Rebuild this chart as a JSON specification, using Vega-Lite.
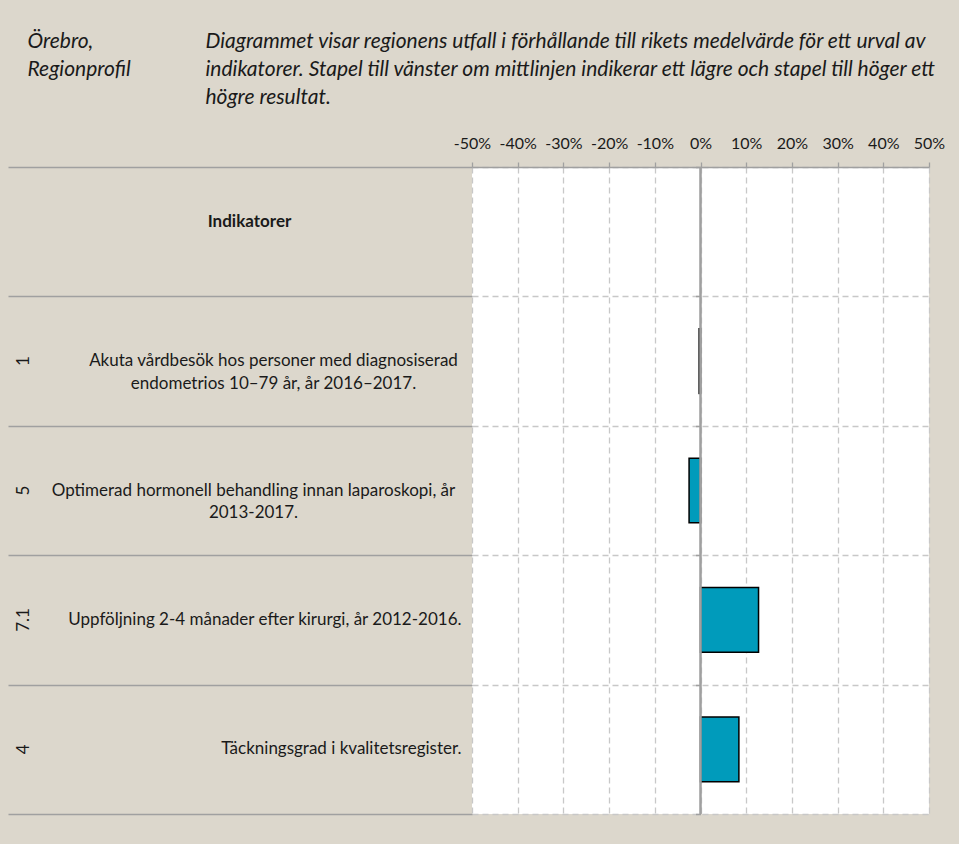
{
  "$schema": "https://vega.github.io/schema/vega-lite/v6.json",
  "width": 457,
  "height": 647,
  "autosize": {"type": "none"},
  "padding": {"left": 472, "top": 167, "right": 30, "bottom": 30},
  "background": "#dcd7cc",
  "config": {"view": {"fill": "white", "stroke": null}, "font": "Lato"},
  "data": {
    "values": [
      {"rad": "|Indikatorer", "avvikelse": null},
      {"rad": "1|Akuta vårdbesök hos personer med diagnosiserad|endometrios 10–79 år, år 2016–2017.", "avvikelse": -0.003},
      {"rad": "5|Optimerad hormonell behandling innan laparoskopi, år|2013-2017.", "avvikelse": -0.025},
      {"rad": "7.1|Uppföljning 2-4 månader efter kirurgi, år 2012-2016.", "avvikelse": 0.127},
      {"rad": "4|Täckningsgrad i kvalitetsregister.", "avvikelse": 0.084}
    ]
  },
  "resolve": {"axis": {"y": "independent"}},
  "layer": [
    {
      "mark": {"type": "bar", "opacity": 0},
      "encoding": {
        "y": {
          "field": "rad",
          "type": "nominal",
          "sort": null,
          "scale": {"paddingInner": 0, "paddingOuter": 0},
          "axis": {
            "orient": "left",
            "title": null,
            "labels": false,
            "domain": false,
            "ticks": true,
            "tickSize": 464,
            "tickColor": "#a0a0a0",
            "tickWidth": 1.5,
            "tickBand": "extent",
            "grid": true,
            "gridColor": "#c8c8c8",
            "gridDash": [6, 4],
            "gridWidth": 1.3
          }
        }
      }
    },
    {
      "mark": {"type": "bar", "opacity": 0},
      "encoding": {
        "y": {
          "field": "rad",
          "type": "nominal",
          "sort": null,
          "axis": {
            "orient": "left",
            "title": null,
            "domain": false,
            "ticks": false,
            "tickSize": 0,
            "grid": false,
            "labelExpr": "slice(split(datum.value, '|'), 1)",
            "labelAlign": {"expr": "(length(split(datum.value, '|')) > 2 || indexof(datum.value, '|') == 0) ? 'center' : 'right'"},
            "labelPadding": {"expr": "indexof(datum.value, '|') == 0 ? 223 : (indexof(datum.value, '1|') == 0 ? 199 : (indexof(datum.value, '5|') == 0 ? 219 : 11))"},
            "labelOffset": {"expr": "indexof(datum.value, '|') == 0 ? -10 : 0"},
            "labelFontWeight": {"expr": "indexof(datum.value, '|') == 0 ? 'bold' : 'normal'"},
            "labelBaseline": "middle",
            "labelLineHeight": 22.5,
            "labelFontSize": 17,
            "labelColor": "#1a1a1a",
            "labelLimit": 700,
            "labelOverlap": false,
            "labelBound": false
          }
        }
      }
    },
    {
      "mark": {"type": "bar", "opacity": 0},
      "encoding": {
        "y": {
          "field": "rad",
          "type": "nominal",
          "sort": null,
          "axis": {
            "orient": "left",
            "domain": false,
            "ticks": false,
            "tickSize": 0,
            "grid": false,
            "labelExpr": "split(datum.value, '|')[0]",
            "labelAngle": -90,
            "labelAlign": "center",
            "labelBaseline": "middle",
            "labelPadding": 449,
            "labelFontSize": 17,
            "labelColor": "#1a1a1a",
            "labelOverlap": false,
            "title": ["Örebro,", "Regionprofil"],
            "titleX": -445,
            "titleY": -120,
            "titleAngle": 0,
            "titleAlign": "left",
            "titleBaseline": "alphabetic",
            "titleFontStyle": "italic",
            "titleFontWeight": "normal",
            "titleFontSize": 21,
            "titleLineHeight": 28,
            "titleColor": "#1a1a1a"
          }
        }
      }
    },
    {
      "mark": {"type": "bar", "color": "#009bbb", "stroke": "black", "strokeWidth": 1.5, "height": {"band": 0.5}},
      "encoding": {
        "x": {
          "field": "avvikelse",
          "type": "quantitative",
          "scale": {"domain": [-0.5, 0.5], "nice": false, "zero": false},
          "axis": {
            "orient": "top",
            "values": [-0.5, -0.4, -0.3, -0.2, -0.1, 0, 0.1, 0.2, 0.3, 0.4, 0.5],
            "labelExpr": "round(datum.value * 100) + '%'",
            "labelFontSize": 16,
            "labelColor": "#1a1a1a",
            "labelPadding": 11,
            "labelFlush": false,
            "labelOverlap": false,
            "grid": true,
            "gridColor": "#c8c8c8",
            "gridDash": [6, 4],
            "gridWidth": 1.3,
            "domainColor": "#a0a0a0",
            "domainWidth": 1.5,
            "tickColor": "#a0a0a0",
            "tickSize": 5,
            "tickWidth": 1.3,
            "title": [
              "Diagrammet visar regionens utfall i förhållande till rikets medelvärde för ett urval av",
              "indikatorer. Stapel till vänster om mittlinjen indikerar ett lägre och stapel till höger ett",
              "högre resultat."
            ],
            "titleX": -267,
            "titleY": -120,
            "titleAlign": "left",
            "titleAngle": 0,
            "titleBaseline": "alphabetic",
            "titleFontStyle": "italic",
            "titleFontWeight": "normal",
            "titleFontSize": 21,
            "titleLineHeight": 28,
            "titleColor": "#1a1a1a"
          }
        },
        "y": {
          "field": "rad",
          "type": "nominal",
          "sort": null,
          "axis": null
        }
      }
    },
    {
      "mark": {"type": "rule", "color": "#a0a0a0", "strokeWidth": 1.5},
      "encoding": {"x": {"datum": 0, "type": "quantitative"}}
    },
    {
      "mark": {"type": "bar", "opacity": 0},
      "encoding": {
        "y": {
          "field": "rad",
          "type": "nominal",
          "sort": null,
          "axis": {
            "orient": "left",
            "offset": -228.5,
            "title": null,
            "labels": false,
            "domain": false,
            "grid": false,
            "ticks": true,
            "tickSize": 5,
            "tickColor": "#a0a0a0",
            "tickWidth": 1.5,
            "tickBand": "extent"
          }
        }
      }
    }
  ]
}
